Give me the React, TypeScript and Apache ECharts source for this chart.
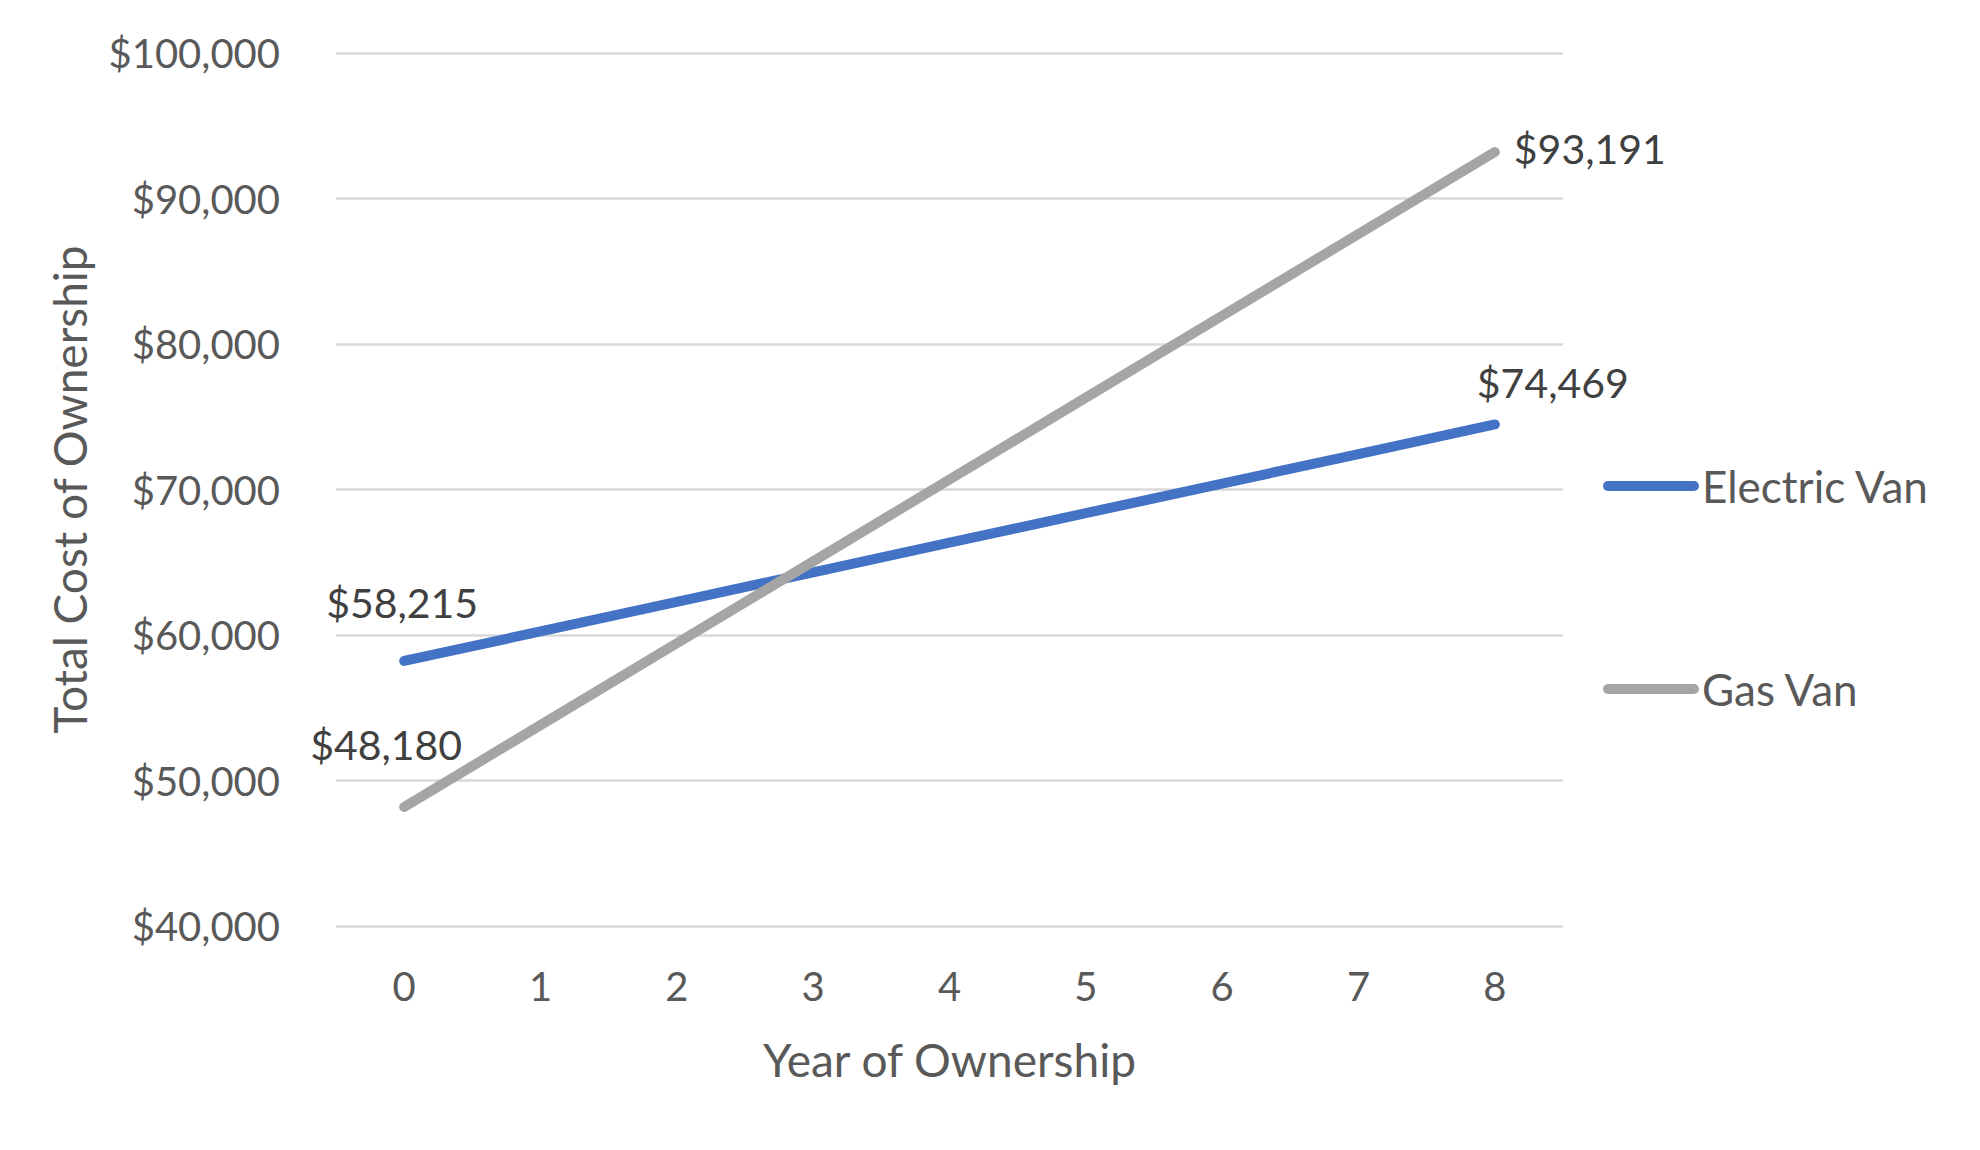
import React, { useEffect, useRef } from "react";
import * as echarts from "echarts";

const years = ["0", "1", "2", "3", "4", "5", "6", "7", "8"];
const electricVan = [58215, 60247, 62279, 64310, 66342, 68374, 70406, 72437, 74469];
const gasVan = [48180, 53806, 59433, 65059, 70686, 76312, 81939, 87565, 93191];
const seriesNames = ["Electric Van", "Gas Van"];
const colors = ["#4472C4", "#A5A5A5"];

const FONT = "Lato, 'Noto Sans', sans-serif";
const fmt = (v: number) => "$" + v.toLocaleString("en-US");

export default function App() {
  const ref = useRef<HTMLDivElement>(null);
  useEffect(() => {
    if (!ref.current) return;
    const chart = echarts.init(ref.current, undefined, { renderer: "svg" });
    const labelStyle = {
      show: true,
      formatter: (p: any) => fmt(p.value),
      fontFamily: FONT,
      fontSize: 41,
      color: "#404040",
      opacity: 1,
    };
    const electricData = electricVan.map((v, i) => {
      if (i === 0) return { value: v, label: { ...labelStyle, position: "top", distance: 37, offset: [-2, 0] } };
      if (i === electricVan.length - 1)
        return { value: v, label: { ...labelStyle, position: "top", distance: 20, offset: [58, 0] } };
      return v;
    });
    const gasData = gasVan.map((v, i) => {
      if (i === 0) return { value: v, label: { ...labelStyle, position: "top", distance: 41, offset: [-18, 0] } };
      if (i === gasVan.length - 1)
        return { value: v, label: { ...labelStyle, position: "right", distance: 18, offset: [0, -4] } };
      return v;
    });
    const lineSeries = (name: string, color: string, data: any[]) => ({
      name,
      type: "line",
      data,
      symbol: "circle",
      symbolSize: 2,
      showSymbol: true,
      itemStyle: { color },
      lineStyle: { color, width: 10, cap: "round", join: "round" },
      label: { show: false },
      emphasis: { disabled: true },
    });
    chart.setOption({
      animation: false,
      backgroundColor: "#ffffff",
      grid: { left: 336, right: 417, top: 53, bottom: 224 },
      legend: {
        orient: "vertical",
        left: 1598,
        top: 456,
        itemWidth: 96,
        itemHeight: 10,
        itemGap: 153,
        icon: "path://M5,0 L91,0 A5,5 0 0 1 91,10 L5,10 A5,5 0 0 1 5,0 Z",
        data: seriesNames.map((n, i) => ({ name: n, itemStyle: { color: colors[i], opacity: 1 } })),
        textStyle: { fontFamily: FONT, fontSize: 44, color: "#595959", lineHeight: 50, padding: [0, 0, 0, -2] },
      },
      xAxis: {
        type: "category",
        data: years,
        boundaryGap: true,
        axisLine: { show: false },
        axisTick: { show: false },
        axisLabel: { fontFamily: FONT, fontSize: 40, color: "#595959", margin: 40 },
        name: "Year of Ownership",
        nameLocation: "middle",
        nameGap: 110,
        nameTextStyle: { fontFamily: FONT, fontSize: 46, color: "#595959" },
      },
      yAxis: {
        type: "value",
        min: 40000,
        max: 100000,
        interval: 10000,
        axisLine: { show: false },
        axisTick: { show: false },
        axisLabel: { fontFamily: FONT, fontSize: 40, color: "#595959", margin: 56, formatter: fmt },
        splitLine: { lineStyle: { color: "#D9D9D9", width: 2.5 } },
        name: "Total Cost of Ownership",
        nameLocation: "middle",
        nameGap: 244,
        nameTextStyle: { fontFamily: FONT, fontSize: 46, color: "#595959" },
      },
      series: [
        lineSeries(seriesNames[0], colors[0], electricData),
        lineSeries(seriesNames[1], colors[1], gasData),
      ],
    });
    return () => chart.dispose();
  }, []);
  return (
    <div
      ref={ref}
      style={{ position: "fixed", left: 0, top: 0, width: 1980, height: 1150 }}
    />
  );
}
